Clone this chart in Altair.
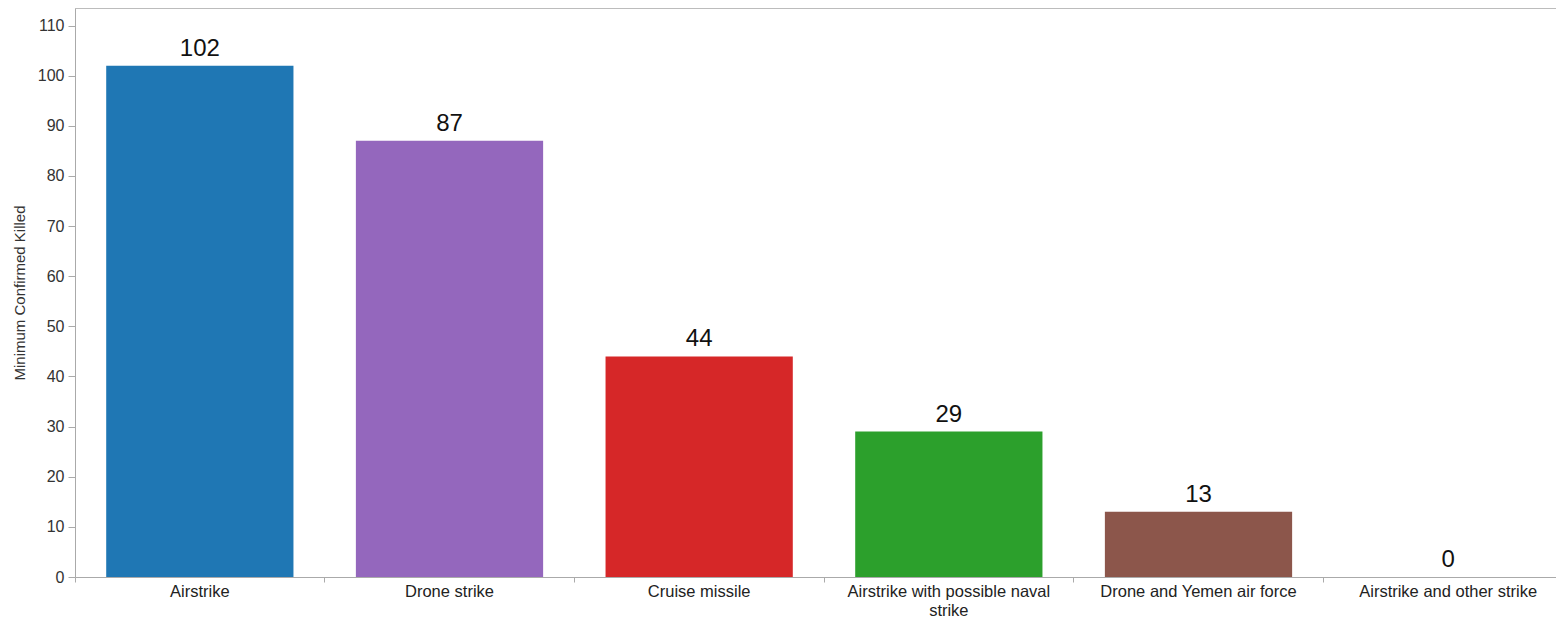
import altair as alt
import pandas as pd

categories = ["Airstrike", "Drone strike", "Cruise missile",
              "Airstrike with possible naval strike",
              "Drone and Yemen air force", "Airstrike and other strike"]
killed = [102, 87, 44, 29, 13, 0]
colors = ["#1f77b4", "#9467bd", "#d62728", "#2ca02c", "#8c564b", "#ff7f0e"]
y_ticks = list(range(0, 111, 10))

df = pd.DataFrame({"Strike": categories, "Killed": killed})

FONT = "Liberation Sans"
STEP = 1498 / 6.0
PAD_INNER = 0.25
BANDWIDTH = STEP * (1 - PAD_INNER)

x_enc = alt.X(
    "Strike:N",
    sort=categories,
    title=None,
    scale=alt.Scale(range=[0, 1498], paddingInner=PAD_INNER, paddingOuter=0.125),
    axis=alt.Axis(
        labelAngle=0,
        labelFontSize=16.5,
        labelColor="#222222",
        labelFont=FONT,
        labelPadding=1,
        labelLimit=400,
        labelLineHeight=19,
        bandPosition=-(STEP * PAD_INNER / 2) / BANDWIDTH,
        tickColor="#aaaaaa",
        tickSize=5,
        domainColor="#aaaaaa",
        labelExpr="datum.value == 'Airstrike with possible naval strike' ? ['Airstrike with possible naval', 'strike'] : datum.label",
    ),
)

y_enc = alt.Y(
    "Killed:Q",
    title="Minimum Confirmed Killed",
    scale=alt.Scale(domain=[0, 113.5], nice=False),
    axis=alt.Axis(
        values=y_ticks,
        grid=False,
        labelFontSize=16,
        labelColor="#333333",
        labelFont=FONT,
        labelPadding=4,
        tickColor="#aaaaaa",
        tickSize=7,
        domainColor="#aaaaaa",
        titleFontSize=15,
        titleFont=FONT,
        titleFontWeight="normal",
        titleColor="#333333",
        titlePadding=10,
    ),
)

base = alt.Chart(df)

bars = base.mark_bar().encode(
    x=x_enc,
    y=y_enc,
    color=alt.Color("Strike:N", scale=alt.Scale(domain=categories, range=colors), legend=None),
)

labels = base.mark_text(baseline="alphabetic", dy=-10, fontSize=24, font=FONT, color="#111111").encode(
    x=alt.X("Strike:N", sort=categories),
    y=alt.Y("Killed:Q"),
    text="Killed:Q",
)

top_line = alt.Chart(df).mark_rule(color="#bbbbbb", strokeWidth=1).encode(
    x=alt.value(0), x2=alt.value(1500), y=alt.value(0)
)

chart = alt.layer(bars, labels, top_line).properties(
    width=1481,
    height=569,
    autosize=alt.AutoSizeParams(type="none"),
    padding={"left": 67, "top": 0, "right": 0, "bottom": 40},
).configure_view(stroke=None).configure(background="white")

chart.save("out.html", embed_options={"renderer": "svg", "actions": False})
